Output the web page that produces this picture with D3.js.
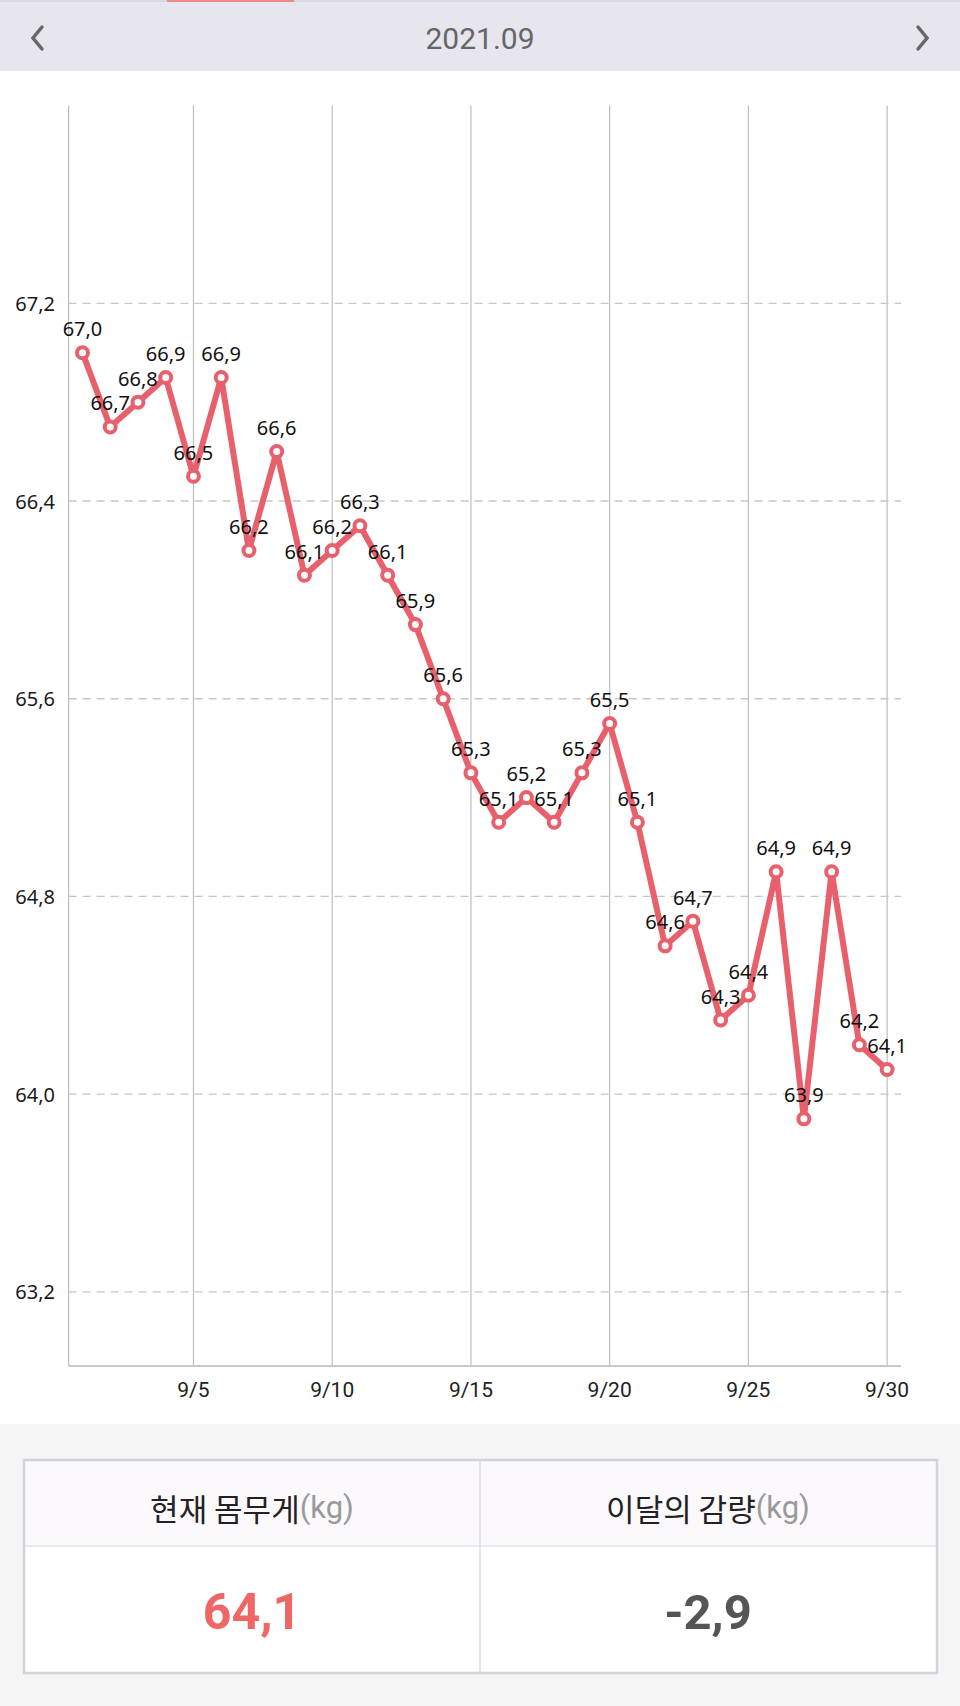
<!DOCTYPE html>
<html><head><meta charset="utf-8">
<script src="https://cdn.jsdelivr.net/npm/d3@7"></script>
<style>
html,body{margin:0;padding:0;background:#fff;}
svg{display:block;}
</style></head>
<body>
<svg id="c" width="960" height="1706"></svg>
<script>
const days = [1,2,3,4,5,6,7,8,9,10,11,12,13,14,15,16,17,18,19,20,21,22,23,24,25,26,27,28,29,30];
const weights = [67.0,66.7,66.8,66.9,66.5,66.9,66.2,66.6,66.1,66.2,66.3,66.1,65.9,65.6,65.3,65.1,65.2,65.1,65.3,65.5,65.1,64.6,64.7,64.3,64.4,64.9,63.9,64.9,64.2,64.1];
const yTicks = [63.2,64.0,64.8,65.6,66.4,67.2];
const xTicks = [5,10,15,20,25,30];
const monthLabel = "2021.09";
const currentWeight = "64,1";
const monthLoss = "-2,9";

const svg = d3.select("#c");
const fmt = v => v.toFixed(1).replace(".", ",");
const LINE = "#e8606c";

// header
svg.append("rect").attr("x",0).attr("y",0).attr("width",960).attr("height",71).attr("fill","#e7e5ee");
svg.append("rect").attr("x",0).attr("y",0).attr("width",960).attr("height",2).attr("fill","#d8d8de");
svg.append("rect").attr("x",167).attr("y",0).attr("width",127).attr("height",2).attr("fill","#f08a8a");
svg.append("text").attr("x",480).attr("y",38).attr("text-anchor","middle").attr("dominant-baseline","central")
  .attr("font-family","Roboto").attr("font-size",30).attr("fill","#666").text(monthLabel);
svg.append("path").attr("d","M42,27 L33,38 L42,49").attr("fill","none").attr("stroke","#666").attr("stroke-width",3.5).attr("stroke-linecap","round");
svg.append("path").attr("d","M918,27 L927,38 L918,49").attr("fill","none").attr("stroke","#666").attr("stroke-width",3.5).attr("stroke-linecap","round");

// chart
const x = d3.scaleLinear().domain([0.5,30.5]).range([68.6,901]);
const y = d3.scaleLinear().domain([62.9,68.0]).range([1366,105.6]);

const g = svg.append("g");
g.selectAll(".vg").data(xTicks).enter().append("line")
  .attr("x1",d=>x(d)).attr("x2",d=>x(d)).attr("y1",y(68.0)).attr("y2",y(62.9))
  .attr("stroke","#bdbdbd").attr("stroke-width",1.2);
g.append("line").attr("x1",x(0.5)).attr("x2",x(0.5)).attr("y1",y(68.0)).attr("y2",y(62.9)).attr("stroke","#bdbdbd").attr("stroke-width",1.2);
g.selectAll(".hg").data(yTicks).enter().append("line")
  .attr("x1",x(0.5)).attr("x2",x(30.5)).attr("y1",d=>y(d)).attr("y2",d=>y(d))
  .attr("stroke","#c6c6c6").attr("stroke-width",1.3).attr("stroke-dasharray","8,6");
g.append("line").attr("x1",x(0.5)).attr("x2",x(30.5)).attr("y1",y(62.9)).attr("y2",y(62.9)).attr("stroke","#c8c8c8").attr("stroke-width",2);

g.selectAll(".yl").data(yTicks).enter().append("text")
  .attr("x",55).attr("y",d=>y(d)).attr("text-anchor","end").attr("dominant-baseline","central")
  .attr("font-family","'Noto Sans'").attr("font-size",20).attr("fill","#1a1a1a").text(d=>fmt(d));
g.selectAll(".xl").data(xTicks).enter().append("text")
  .attr("x",d=>x(d)).attr("y",1390).attr("text-anchor","middle").attr("dominant-baseline","central")
  .attr("font-family","Roboto").attr("font-size",21).attr("fill","#222").text(d=>"9/"+d);

const pts = days.map((d,i)=>({d, w:weights[i]}));
g.append("path").datum(pts)
  .attr("d", d3.line().x(p=>x(p.d)).y(p=>y(p.w)))
  .attr("fill","none").attr("stroke",LINE).attr("stroke-width",6).attr("stroke-linejoin","round");
g.selectAll(".pt").data(pts).enter().append("circle")
  .attr("cx",p=>x(p.d)).attr("cy",p=>y(p.w)).attr("r",5.5)
  .attr("fill","#fff").attr("stroke",LINE).attr("stroke-width",4);
g.selectAll(".lb").data(pts).enter().append("text")
  .attr("x",p=>x(p.d)).attr("y",p=>y(p.w)-24).attr("text-anchor","middle").attr("dominant-baseline","central")
  .attr("font-family","'Noto Sans'").attr("font-size",20).attr("fill","#111").text(p=>fmt(p.w));

// bottom panel
svg.append("rect").attr("x",0).attr("y",1424).attr("width",960).attr("height",282).attr("fill","#f5f5f6");
const T = {x:24,y:1460,w:913,h:213,hh:86};
svg.append("rect").attr("x",T.x).attr("y",T.y).attr("width",T.w).attr("height",T.hh).attr("fill","#fcf9fc");
svg.append("rect").attr("x",T.x).attr("y",T.y+T.hh).attr("width",T.w).attr("height",T.h-T.hh).attr("fill","#fff");
svg.append("line").attr("x1",T.x).attr("x2",T.x+T.w).attr("y1",T.y+T.hh).attr("y2",T.y+T.hh).attr("stroke","#e2e2e8").attr("stroke-width",1.5);
svg.append("line").attr("x1",480).attr("x2",480).attr("y1",T.y).attr("y2",T.y+T.h).attr("stroke","#dcdce2").attr("stroke-width",1.5);
svg.append("rect").attr("x",T.x).attr("y",T.y).attr("width",T.w).attr("height",T.h).attr("fill","none").attr("stroke","#d2d2da").attr("stroke-width",2.5);

const heads = [{t:"현재 몸무게", cx:252},{t:"이달의 감량", cx:708}];
heads.forEach(h=>{
  const t = svg.append("text").attr("x",h.cx).attr("y",1507).attr("text-anchor","middle").attr("dominant-baseline","central")
    .attr("font-family","'Noto Sans CJK KR'").attr("font-size",31).attr("fill","#222");
  t.append("tspan").text(h.t);
  t.append("tspan").attr("fill","#9a9a9a").attr("font-family","Roboto").text("(kg)");
});
svg.append("text").attr("x",252).attr("y",1612).attr("text-anchor","middle").attr("dominant-baseline","central")
  .attr("font-family","Roboto").attr("font-weight","bold").attr("font-size",50).attr("fill","#f06565").text(currentWeight);
svg.append("text").attr("x",708).attr("y",1612).attr("text-anchor","middle").attr("dominant-baseline","central")
  .attr("font-family","Roboto").attr("font-weight","bold").attr("font-size",49).attr("fill","#555").text(monthLoss);
</script>
</body></html>
